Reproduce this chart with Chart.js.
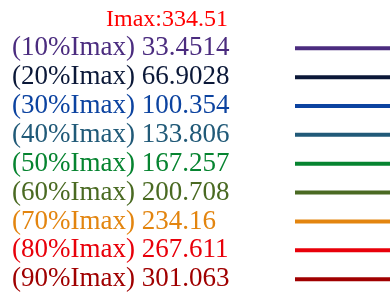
<!DOCTYPE html>
<html>
<head>
<meta charset="utf-8">
<script src="https://cdn.jsdelivr.net/npm/chart.js@4/dist/chart.umd.min.js"></script>
<style>
  html, body { margin: 0; padding: 0; background: #fff; }
</style>
</head>
<body>
<canvas id="legendChart" width="390" height="294"></canvas>
<script>
const imax = 334.51;
const percents = [10, 20, 30, 40, 50, 60, 70, 80, 90];
const levelValues = ["33.4514", "66.9028", "100.354", "133.806", "167.257", "200.708", "234.16", "267.611", "301.063"];
const levelColors = ["#4b2c7f", "#0b1838", "#0c43a0", "#215a78", "#068430", "#4a6a22", "#e3850f", "#e8000a", "#a00000"];
const imaxColor = "#ff0000";

const serif = "'Liberation Serif', 'Times New Roman', serif";

// one horizontal stroke per level, row index = position on the y scale
const datasets = percents.map((p, i) => ({
    label: p + "%",
    data: [{ x: 0, y: i + 1 }, { x: 1, y: i + 1 }],
    borderColor: levelColors[i],
    borderWidth: 4,
    pointRadius: 0,
    fill: false,
    clip: false
}));

function levelLabel(v) {
    if (v < 1) return null;
    return "(" + percents[v - 1] + "%Imax) " + levelValues[v - 1];
}

const ctx = document.getElementById("legendChart").getContext("2d");
new Chart(ctx, {
    type: "line",
    data: { datasets: datasets },
    options: {
        responsive: false,
        animation: false,
        layout: { padding: { top: 19.4, bottom: 14.8, left: 0, right: 0 } },
        plugins: { legend: { display: false }, tooltip: { enabled: false } },
        scales: {
            x: { type: "linear", min: 0, max: 1, display: false },
            // level labels: outermost, zero width, mirrored so they are not clipped, left aligned at x=12
            y: {
                type: "linear",
                position: "left",
                weight: 10,
                min: 0,
                max: 9,
                reverse: true,
                grid: { display: false, drawTicks: false },
                border: { display: false },
                afterFit: (scale) => {
                    scale.width = 0;
                    scale.paddingTop = 0;
                    scale.paddingBottom = 0;
                },
                ticks: {
                    stepSize: 1,
                    autoSkip: false,
                    mirror: true,
                    padding: 12,
                    callback: (value) => levelLabel(value),
                    color: (c) => levelColors[c.tick.value - 1] || imaxColor,
                    font: { family: serif, size: 27 }
                }
            },
            // Imax header, right aligned before the strokes
            yImax: {
                type: "linear",
                position: "left",
                weight: 0,
                min: 0,
                max: 9,
                reverse: true,
                grid: { display: false, drawTicks: false },
                border: { display: false },
                afterFit: (scale) => {
                    scale.width = 295;
                    scale.paddingTop = 0;
                    scale.paddingBottom = 0;
                },
                ticks: {
                    stepSize: 1,
                    autoSkip: false,
                    padding: 67,
                    callback: (value) => value === 0 ? "Imax:" + imax : null,
                    color: imaxColor,
                    font: { family: serif, size: 24 }
                }
            }
        }
    }
});
</script>
</body>
</html>
